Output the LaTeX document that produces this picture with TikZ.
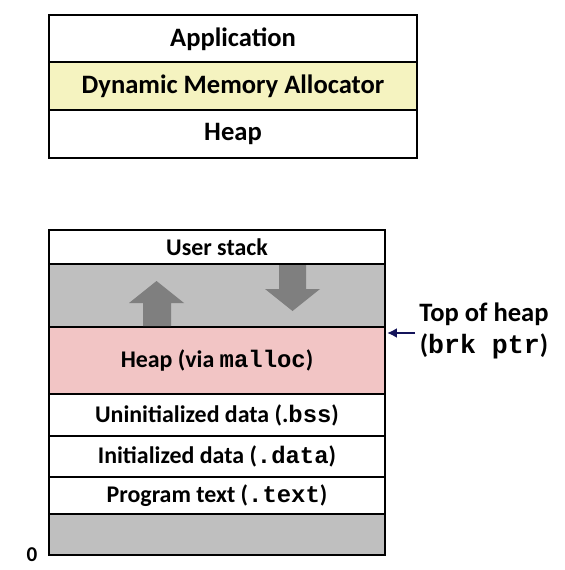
\documentclass[tikz,border=0pt]{standalone}
\usepackage{fontspec}
\setmainfont{Carlito}
\setmonofont{Liberation Mono}
\usetikzlibrary{arrows.meta}
\definecolor{allocyellow}{RGB}{245,243,192}
\definecolor{heappink}{RGB}{242,197,197}
\definecolor{gapgray}{RGB}{191,191,191}
\definecolor{growgray}{RGB}{127,127,127}
\definecolor{ptrblue}{RGB}{20,20,90}
\tikzset{
  layer/.style={rectangle,draw=black,line width=1.5pt,inner sep=0pt,outer sep=0pt,font=\bfseries},
  toplayer/.style={layer,minimum width=9.2cm,minimum height=1.2cm,font=\fontsize{18.9}{22}\selectfont\bfseries},
  memlayer/.style={layer,minimum width=8.4cm,font=\fontsize{17}{20}\selectfont\bfseries},
}
\begin{document}
\begin{tikzpicture}[x=0.025cm,y=-0.025cm]
\useasboundingbox (0,0) rectangle (564,570);
% allocator stack
\node[toplayer] (app) at (233,39) {Application};
\node[toplayer,fill=allocyellow] (dma) at (233,86) {Dynamic Memory Allocator};
\node[toplayer] (heap) at (233,134) {Heap};

% process memory image
\node[memlayer,minimum height=0.85cm] (ustack) at (217,247) {User stack};
\node[memlayer,minimum height=1.575cm,fill=gapgray] (gap) at (217,295.5) {};
\node[memlayer,minimum height=1.675cm,fill=heappink] (heapm) at (217,360.5) {Heap (via \texttt{malloc})};
\node[memlayer,minimum height=1.05cm] (bss) at (217,415) {Uninitialized data (.\texttt{bss})};
\node[memlayer,minimum height=1.025cm] (data) at (217,456.5) {Initialized data (\texttt{.data})};
\node[memlayer,minimum height=0.925cm] (text) at (217,495.5) {Program text (\texttt{.text})};
\node[memlayer,minimum height=1.025cm,fill=gapgray] (bottom) at (217,534.5) {};

% growth arrows
\fill[growgray] (143,326) -- (143,303) -- (129,303) -- (156.5,281) -- (184,303) -- (171,303) -- (171,326) -- cycle;
\fill[growgray] (279,265) -- (279,289) -- (265,289) -- (292.5,311) -- (320,289) -- (306,289) -- (306,265) -- cycle;

% brk pointer
\node[font=\fontsize{18.9}{23}\selectfont\bfseries,align=center] (toph) at (484,331) {Top of heap\\(\texttt{brk ptr})};
\coordinate (brkfrom) at (415,333);
\coordinate (brkto) at (387,333);
\draw[ptrblue,line width=1.6pt,-{Latex[length=7pt,width=7pt]}] (brkfrom) -- (brkto);

\node[font=\fontsize{15}{17}\selectfont\bfseries] (zero) at (32,555) {0};
\end{tikzpicture}
\end{document}
